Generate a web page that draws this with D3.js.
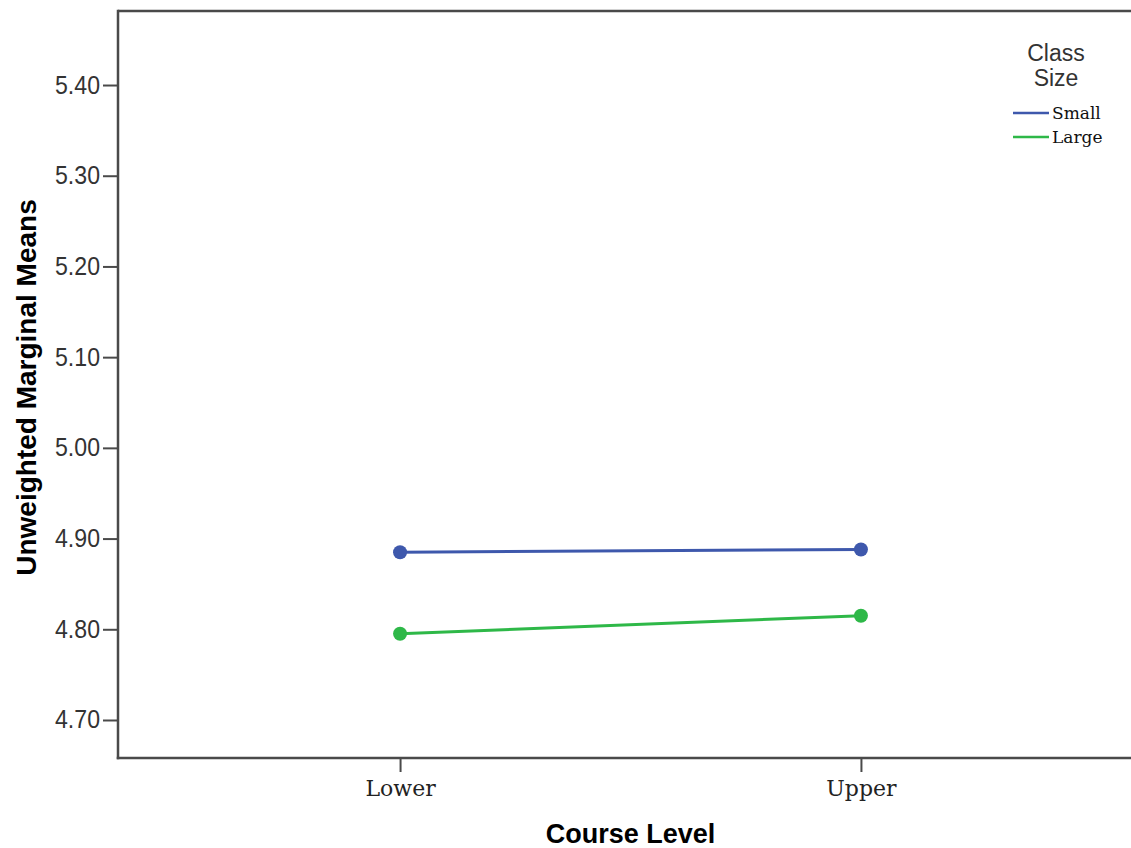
<!DOCTYPE html>
<html>
<head>
<meta charset="utf-8">
<script src="https://cdn.jsdelivr.net/npm/d3@7"></script>
<style>
  html, body { margin: 0; padding: 0; background: #fff; overflow: hidden; }
  svg { display: block; }
</style>
</head>
<body>
<svg id="chart" width="1131" height="848"></svg>
<script>
// ---- data ----
const categories = ["Lower", "Upper"];
const seriesNames = ["Small", "Large"];
const smallValues = [4.885, 4.888];
const largeValues = [4.795, 4.815];
const yTicks = [4.70, 4.80, 4.90, 5.00, 5.10, 5.20, 5.30, 5.40];
const colors = ["#3E58AC", "#2EB848"];
const legendTitle = ["Class", "Size"];
const xTitle = "Course Level";
const yTitle = "Unweighted Marginal Means";

const series = [
  { name: seriesNames[0], values: smallValues, color: colors[0] },
  { name: seriesNames[1], values: largeValues, color: colors[1] }
];

const svg = d3.select("#chart");
const pLeft = 118, pRight = 1143, pTop = 11, pBottom = 758;

const x = d3.scalePoint().domain(categories).range([pLeft, pRight]).padding(0.612);
const y = d3.scaleLinear().domain([4.6581, 5.4816]).range([pBottom, pTop]);

const axisColor = "#4a4a4a";

// frame top (plot extends past right edge)
svg.append("line").attr("x1", pLeft).attr("x2", 1131).attr("y1", pTop).attr("y2", pTop)
  .attr("stroke", axisColor).attr("stroke-width", 2.5);

// y axis
const yAxis = svg.append("g").attr("transform", `translate(${pLeft},0)`)
  .call(d3.axisLeft(y).tickValues(yTicks).tickFormat(d3.format(".2f")).tickSize(15).tickPadding(3));
yAxis.select(".domain").remove();
yAxis.append("line").attr("x1", 0).attr("x2", 0).attr("y1", pTop - 1.25).attr("y2", pBottom + 1.25)
  .attr("stroke", axisColor).attr("stroke-width", 2.5);
yAxis.selectAll(".tick line").attr("stroke", axisColor).attr("stroke-width", 2);
yAxis.selectAll(".tick text")
  .attr("fill", "#333")
  .attr("textLength", 45)
  .attr("lengthAdjust", "spacingAndGlyphs")
  .style("font-family", "'Liberation Sans', sans-serif")
  .style("font-size", "25px");

// x axis
const xAxis = svg.append("g").attr("transform", `translate(0,${pBottom})`)
  .call(d3.axisBottom(x).tickSize(14).tickPadding(8));
xAxis.select(".domain").remove();
xAxis.append("line").attr("x1", pLeft - 1.25).attr("x2", 1131).attr("y1", 0).attr("y2", 0)
  .attr("stroke", axisColor).attr("stroke-width", 2.5);
xAxis.selectAll(".tick line").attr("stroke", axisColor).attr("stroke-width", 2);
xAxis.selectAll(".tick text")
  .attr("fill", "#222")
  .style("font-family", "'DejaVu Serif', serif")
  .style("font-size", "22px");

// axis titles
svg.append("text").attr("x", (pLeft + pRight) / 2).attr("y", 843)
  .attr("text-anchor", "middle")
  .style("font-family", "'Liberation Sans', Arial, sans-serif")
  .style("font-weight", "bold").style("font-size", "27px").attr("fill", "#000")
  .text(xTitle);
svg.append("text")
  .attr("transform", `translate(36,${(pTop + pBottom) / 2 + 3}) rotate(-90)`)
  .attr("text-anchor", "middle")
  .style("font-family", "'Liberation Sans', Arial, sans-serif")
  .style("font-weight", "bold").style("font-size", "28px").attr("fill", "#000")
  .text(yTitle);

// lines and points
const line = d3.line().x((d, i) => x(categories[i])).y(d => y(d));
series.forEach(s => {
  svg.append("path").datum(s.values).attr("d", line)
    .attr("fill", "none").attr("stroke", s.color).attr("stroke-width", 3);
  svg.selectAll(null).data(s.values).enter().append("circle")
    .attr("cx", (d, i) => x(categories[i])).attr("cy", d => y(d))
    .attr("r", 7).attr("fill", s.color);
});

// legend
const lg = svg.append("g");
legendTitle.forEach((t, i) => {
  lg.append("text").attr("x", 1056).attr("y", 61 + i * 25).attr("text-anchor", "middle")
    .style("font-family", "'Liberation Sans', Arial, sans-serif").style("font-size", "23px")
    .attr("fill", "#333").text(t);
});
series.forEach((s, i) => {
  const yy = 113 + i * 24;
  lg.append("line").attr("x1", 1013).attr("x2", 1049).attr("y1", yy).attr("y2", yy)
    .attr("stroke", s.color).attr("stroke-width", 2.5);
  lg.append("text").attr("x", 1052).attr("y", yy + 6)
    .style("font-family", "'DejaVu Serif', serif").style("font-size", "17px")
    .attr("fill", "#111").text(s.name);
});
</script>
</body>
</html>
